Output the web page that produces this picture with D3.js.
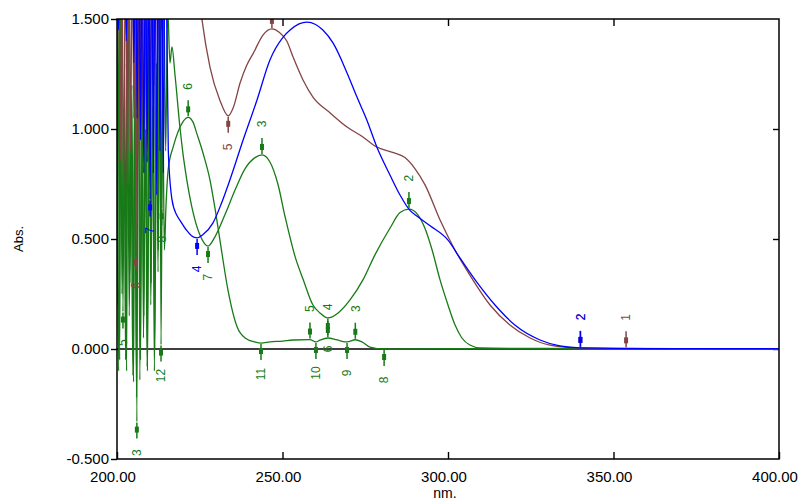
<!DOCTYPE html>
<html>
<head>
<meta charset="utf-8">
<style>
  body { margin: 0; background: #fff; }
  svg text { font-family: "Liberation Sans", Arial, sans-serif; }
</style>
</head>
<body>
<div id="chart"></div>
<script src="https://cdn.jsdelivr.net/npm/d3@7/dist/d3.min.js"></script>
<script>
// axis setup
var xDomain = [200, 400];
var yDomain = [-0.5, 1.5];
var xTicks = [200, 250, 300, 350, 400];
var yTicks = [-0.5, 0, 0.5, 1.0, 1.5];

// spectra, [nm, Abs]
var brownPts = [
  [200.0,1.0],[200.5,1.9],[201.0,0.85],[201.5,1.8],[202.0,0.7],[202.6,2.0],[203.1,0.75],[203.6,1.9],
  [204.1,0.9],[204.6,1.9],[205.1,1.05],[205.4,1.95],[205.7,0.43],[206.2,1.9],[206.8,0.8],[207.3,2.0],
  [207.9,1.0],[208.4,1.9],[209.0,0.9],[209.5,1.9],[210.1,1.15],[210.6,1.9],[211.2,1.2],[211.7,2.0],
  [212.3,1.35],[212.8,1.9],[213.4,1.45],[214.0,2.0],[214.6,1.7],[215.5,1.9],[218.0,2.1],[221.0,2.0],
  [223.5,1.8],[225.7,1.495],[228.1,1.28],[231.1,1.13],[233.6,1.06],[235.2,1.1],[237.2,1.21],[239.2,1.29],
  [241.2,1.345],[244.1,1.427],[246.8,1.455],[249.0,1.44],[251.3,1.40],[253.2,1.327],[256.2,1.223],
  [259.2,1.145],[264.4,1.073],[269.5,1.009],[274.3,0.964],[278.5,0.918],[283.0,0.895],[287.0,0.87],
  [290.0,0.82],[293.1,0.745],[297.6,0.586],[302.1,0.45],[306.6,0.336],[312.7,0.2],[318.7,0.109],
  [324.8,0.05],[330.8,0.018],[340.0,0.005],[353.8,0.003],[370.0,0.002],[400.0,0.002]
];

var bluePts = [
  [200.0,1.7],[200.5,1.45],[201.0,1.9],[201.6,1.6],[202.2,2.0],[202.8,1.4],[203.4,1.9],[204.0,1.55],
  [204.6,2.0],[205.1,1.3],[205.6,1.9],[206.1,1.05],[206.6,2.0],[207.1,0.95],[207.6,1.9],[208.1,0.8],
  [208.6,2.0],[209.1,0.85],[209.6,1.9],[210.0,0.68],[210.5,2.0],[211.0,0.8],[211.5,1.9],[212.0,0.7],
  [212.5,2.0],[213.0,0.9],[213.5,1.9],[214.0,0.8],[214.5,1.9],[214.9,1.7],[215.5,0.9],[216.6,0.68],
  [218.0,0.61],[219.0,0.586],[221.0,0.54],[222.5,0.515],[224.2,0.505],[226.0,0.52],[229.0,0.573],
  [231.5,0.66],[234.1,0.768],[238.1,0.95],[242.3,1.132],[246.2,1.314],[250.2,1.418],[252.3,1.45],
  [255.0,1.478],[257.4,1.486],[260.0,1.475],[262.2,1.45],[265.3,1.39],[269.5,1.255],[272.5,1.145],
  [275.5,1.04],[278.5,0.918],[282.5,0.79],[285.5,0.70],[288.5,0.63],[291.0,0.60],[294.6,0.56],
  [300.0,0.495],[303.6,0.414],[308.2,0.314],[314.2,0.2],[320.2,0.109],[327.8,0.041],[333.8,0.014],
  [340.0,0.005],[360.0,0.002],[400.0,0.002]
];

var greenAPts = [
  [200.0,0.2],[200.3,1.6],[200.8,-0.05],[201.3,1.8],[201.8,0.17],[202.3,1.3],[202.9,-0.1],[203.4,1.9],
  [203.9,0.3],[204.5,1.2],[205.0,-0.15],[205.5,1.5],[206.0,-0.33],[206.5,1.9],[207.1,-0.05],[207.6,1.1],
  [208.1,0.15],[208.7,1.9],[209.2,-0.1],[209.8,1.3],[210.3,0.3],[210.9,1.9],[211.4,0.0],[212.0,1.2],
  [212.5,0.45],[213.0,1.9],[213.5,0.64],[214.1,1.7],[214.7,0.9],[215.3,1.55],[216.0,1.3],[216.6,1.373],
  [217.5,1.25],[219.0,1.01],[220.0,0.88],[221.1,0.768],[223.0,0.62],[225.0,0.52],[227.5,0.468],
  [229.6,0.51],[232.6,0.61],[235.6,0.72],[238.7,0.82],[241.7,0.87],[243.8,0.882],[246.2,0.85],
  [248.6,0.75],[250.8,0.6],[253.8,0.42],[256.3,0.314],[259.2,0.2],[261.3,0.164],[263.7,0.141],
  [266.8,0.164],[270.4,0.223],[274.3,0.314],[278.0,0.43],[282.5,0.55],[285.5,0.62],[288.2,0.636],
  [290.9,0.61],[293.0,0.55],[295.2,0.45],[297.6,0.314],[300.0,0.2],[302.1,0.11],[304.2,0.05],
  [306.6,0.018],[309.7,0.005],[320.0,0.003],[340.0,0.002],[345.0,0.0],[400.0,0.0]
];

var greenBPts = [
  [200.0,1.0],[200.5,-0.1],[201.0,1.7],[201.5,0.25],[202.1,1.1],[202.6,-0.05],[203.1,1.5],[203.7,0.15],
  [204.2,1.0],[204.8,-0.12],[205.3,1.2],[205.9,-0.22],[206.4,1.8],[206.9,-0.14],[207.5,1.4],[208.0,0.05],
  [208.6,1.0],[209.1,-0.08],[209.7,1.6],[210.2,0.2],[210.8,1.1],[211.3,-0.1],[211.9,1.3],[212.4,0.35],
  [212.9,1.7],[213.3,0.02],[213.8,1.2],[214.3,0.45],[214.8,0.65],[215.5,0.82],[217.0,0.92],[218.5,0.99],
  [220.0,1.035],[221.5,1.053],[223.0,1.03],[224.1,0.98],[226.0,0.89],[228.1,0.768],[229.6,0.64],
  [231.1,0.495],[233.5,0.27],[236.3,0.10],[238.7,0.05],[241.7,0.032],[243.5,0.027],[246.2,0.032],
  [250.0,0.036],[253.2,0.041],[258.3,0.043],[260.1,0.032],[261.3,0.04],[263.7,0.05],[266.5,0.041],
  [269.5,0.032],[272.0,0.042],[274.0,0.032],[276.4,0.009],[280.7,0.0],[300.0,0.002],[340.0,0.001],
  [400.0,0.0]
];

// peak / valley picks: [nm, Abs, label, dir] dir 1 = peak (label above), -1 = valley (label below)
var brownPicks = [
  [353.8, 0.003, '1', 1], [340.0, 0.005, '2', 1], [246.8, 1.455, null, 1],
  [233.6, 1.06, '5', -1], [205.7, 0.43, '6', -1]
];
var bluePicks = [
  [340.0, 0.005, '2', 1], [224.2, 0.505, '4', -1], [210.0, 0.68, '7', -1]
];
var greenAPicks = [
  [288.2, 0.636, '2', 1], [243.8, 0.882, '3', 1], [263.7, 0.141, '6', -1], [227.5, 0.468, '7', -1],
  [213.5, 0.64, '8', -1], [206.0, -0.33, '3', -1], [201.8, 0.17, '5', -1]
];
var greenBPicks = [
  [221.5, 1.053, '6', 1], [258.3, 0.043, '5', 1], [263.7, 0.05, '4', 1], [272.0, 0.042, '3', 1],
  [213.3, 0.02, '12', -1], [243.5, 0.027, '11', -1], [260.1, 0.032, '10', -1], [269.5, 0.032, '9', -1],
  [280.7, 0.0, '8', -1]
];

(function(d3) {
  'use strict';

  var width = 799;
  var height = 500;
  var left = 117, right = 779, top = 19, bottom = 459;

  var x = d3.scaleLinear().domain(xDomain).range([left, right]);
  var y = d3.scaleLinear().domain(yDomain).range([bottom, top]);

  var svg = d3.select('#chart')
    .append('svg')
    .attr('width', width)
    .attr('height', height);

  svg.append('defs').append('clipPath')
    .attr('id', 'plot-clip')
    .append('rect')
    .attr('x', left)
    .attr('y', top)
    .attr('width', right - left)
    .attr('height', bottom - top);

  // axes
  var gx = svg.append('g')
    .attr('transform', 'translate(0,' + bottom + ')')
    .call(d3.axisBottom(x).tickValues(xTicks)
      .tickFormat(function(d) { return d.toFixed(2); })
      .tickSizeInner(-7).tickSizeOuter(0).tickPadding(12));
  gx.attr('font-size', 15).attr('font-family', null);
  gx.selectAll('text').attr('dx', -4.5);

  var gy = svg.append('g')
    .attr('transform', 'translate(' + left + ',0)')
    .call(d3.axisLeft(y).tickValues(yTicks)
      .tickFormat(function(d) { return d.toFixed(3); })
      .tickSizeInner(6).tickSizeOuter(0).tickPadding(2));
  gy.attr('font-size', 15).attr('font-family', null);

  var gt = svg.append('g')
    .attr('transform', 'translate(0,' + top + ')')
    .call(d3.axisTop(x).tickValues([250, 300, 350]).tickSizeInner(-7).tickSizeOuter(0));
  gt.selectAll('text').remove();

  var gr = svg.append('g')
    .attr('transform', 'translate(' + right + ',0)')
    .call(d3.axisRight(y).tickValues([0, 0.5, 1.0]).tickSizeInner(-6).tickSizeOuter(0));
  gr.selectAll('text').remove();

  svg.selectAll('.domain').remove();
  svg.selectAll('.tick line').attr('stroke', '#000').attr('stroke-width', 1.4);
  svg.selectAll('.tick text').attr('fill', '#000');

  svg.append('text')
    .attr('transform', 'translate(18,' + y(0.5) + ') rotate(-90)')
    .attr('text-anchor', 'middle')
    .attr('dy', '0.35em')
    .attr('font-size', 13)
    .text('Abs.');

  svg.append('text')
    .attr('x', x(300) - 3)
    .attr('y', 498)
    .attr('text-anchor', 'middle')
    .attr('font-size', 14)
    .text('nm.');

  var plot = svg.append('g').attr('clip-path', 'url(#plot-clip)');

  plot.append('line')
    .attr('x1', x(xDomain[0]))
    .attr('x2', x(xDomain[1]))
    .attr('y1', y(0))
    .attr('y2', y(0))
    .attr('stroke', '#000')
    .attr('stroke-width', 1.4);

  var line = d3.line()
    .x(function(d) { return x(d[0]); })
    .y(function(d) { return y(d[1]); })
    .curve(d3.curveMonotoneX);

  // drawing order: greens under brown, blue on top
  var series = [
    { pts: greenBPts, picks: greenBPicks, color: '#177a17' },
    { pts: greenAPts, picks: greenAPicks, color: '#177a17' },
    { pts: brownPts, picks: brownPicks, color: '#844444' },
    { pts: bluePts, picks: bluePicks, color: '#0000ff' }
  ];

  series.forEach(function(s) {
    plot.append('path')
      .datum(s.pts)
      .attr('fill', 'none')
      .attr('stroke', s.color)
      .attr('stroke-width', 1.3)
      .attr('d', line);
  });

  // pick markers
  series.forEach(function(s) {
    var g = plot.append('g').selectAll('g')
      .data(s.picks)
      .enter()
      .append('g')
      .attr('transform', function(d) { return 'translate(' + x(d[0]) + ',' + y(d[1]) + ')'; });

    g.append('line')
      .attr('x1', 0).attr('x2', 0)
      .attr('y1', function(d) { return -d[3] * 1; })
      .attr('y2', function(d) { return -d[3] * 17; })
      .attr('stroke', s.color)
      .attr('stroke-width', 1.5);

    g.append('rect')
      .attr('x', -2)
      .attr('y', function(d) { return d[3] > 0 ? -11 : 5; })
      .attr('width', 4)
      .attr('height', 6)
      .attr('fill', s.color);

    g.filter(function(d) { return d[2] !== null; })
      .append('text')
      .attr('transform', function(d) { return 'translate(0,' + (-d[3] * 31) + ') rotate(-90)'; })
      .attr('text-anchor', 'middle')
      .attr('dy', '0.35em')
      .attr('font-size', 12)
      .attr('fill', s.color)
      .text(function(d) { return d[2]; });
  });

  svg.append('rect')
    .attr('x', left)
    .attr('y', top)
    .attr('width', right - left)
    .attr('height', bottom - top)
    .attr('fill', 'none')
    .attr('stroke', '#000')
    .attr('stroke-width', 1.5);

})(window.d3);
</script>
</body>
</html>
